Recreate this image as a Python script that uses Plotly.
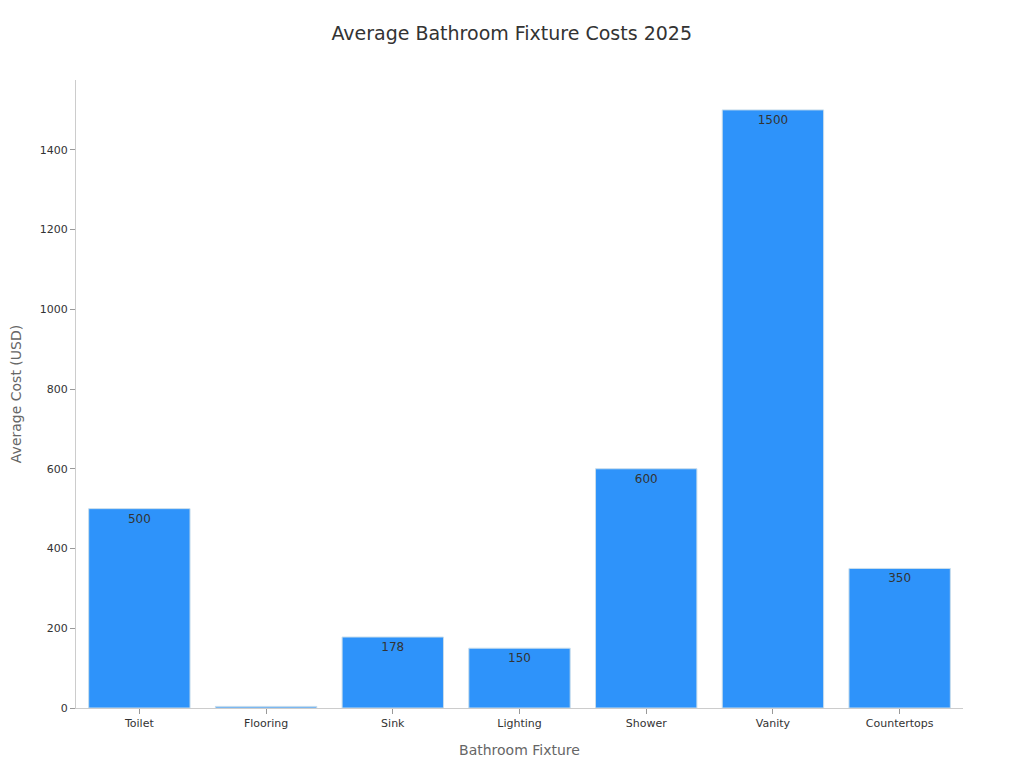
import plotly.graph_objects as go

categories = ["Toilet", "Flooring", "Sink", "Lighting", "Shower", "Vanity", "Countertops"]
costs = [500, 4, 178, 150, 600, 1500, 350]
labels = ["500", "", "178", "150", "600", "1500", "350"]

fig = go.Figure(go.Bar(
    x=categories,
    y=costs,
    text=labels,
    textposition="inside",
    insidetextanchor="end",
    textfont=dict(size=12, color="#333333"),
    marker=dict(color="#2E93FA", line=dict(color="#C8DDEB", width=1)),
    width=0.8,
))

fig.update_layout(
    width=1024, height=768,
    margin=dict(l=68, r=69, t=72, b=68),
    paper_bgcolor="white", plot_bgcolor="white",
    font=dict(family="DejaVu Sans", color="#333333", size=12),
    title=dict(text="Average Bathroom Fixture Costs 2025", x=503 / 1024, xanchor="center",
               xref="paper", y=1 - 25 / 768, yanchor="middle", font=dict(size=19, color="#333333")),
    xaxis=dict(
        title=dict(text="Bathroom Fixture", font=dict(size=14, color="#666666"), standoff=15),
        showline=True, linecolor="#cccccc", ticks="outside", tickcolor="#999999", ticklen=5,
        tickfont=dict(size=11, color="#333333"), showgrid=False,
    ),
    yaxis=dict(
        title=dict(text="Average Cost (USD)", font=dict(size=14, color="#666666"), standoff=17),
        range=[0, 1575], dtick=200, automargin=False,
        showline=True, linecolor="#cccccc", ticks="outside", tickcolor="#999999", ticklen=5,
        tickfont=dict(size=11, color="#333333"), showgrid=False, zeroline=False,
    ),
    showlegend=False,
)

fig.write_html("out.html")
